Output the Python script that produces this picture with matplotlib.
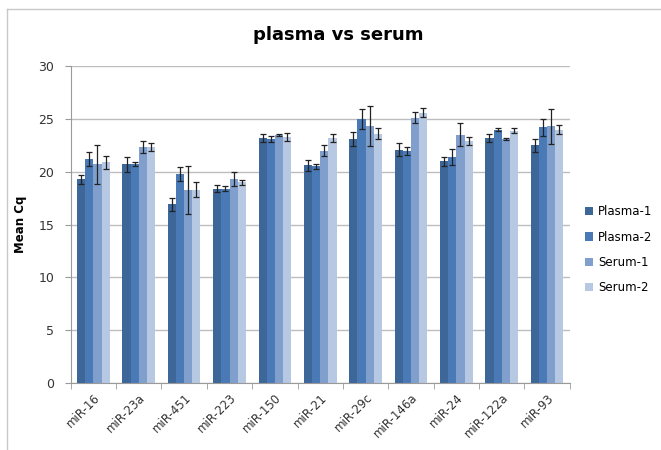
import numpy as np
import matplotlib.pyplot as plt
from matplotlib.lines import Line2D

# Dados
mirnas = ['miR-16', 'miR-23a', 'miR-451', 'miR-223', 'miR-150', 'miR-21',
          'miR-29c', 'miR-146a', 'miR-24', 'miR-122a', 'miR-93']
series = ['Plasma-1', 'Plasma-2', 'Serum-1', 'Serum-2']

plasma1 = [19.3, 20.7, 16.9, 18.4, 23.2, 20.6, 23.1, 22.1, 21.0, 23.2, 22.5]
plasma2 = [21.2, 20.7, 19.8, 18.4, 23.1, 20.5, 25.0, 22.0, 21.4, 24.0, 24.2]
serum1 = [20.7, 22.3, 18.3, 19.3, 23.5, 22.0, 24.3, 25.1, 23.5, 23.1, 24.3]
serum2 = [20.9, 22.3, 18.3, 19.0, 23.3, 23.2, 23.6, 25.6, 22.9, 23.9, 24.0]

err_p1 = [0.43, 0.73, 0.66, 0.32, 0.38, 0.52, 0.69, 0.65, 0.41, 0.35, 0.62]
err_p2 = [0.63, 0.19, 0.68, 0.24, 0.33, 0.28, 0.93, 0.38, 0.76, 0.10, 0.79]
err_s1 = [1.88, 0.57, 2.26, 0.68, 0.11, 0.55, 1.89, 0.52, 1.09, 0.06, 1.66]
err_s2 = [0.60, 0.38, 0.71, 0.24, 0.38, 0.35, 0.52, 0.41, 0.35, 0.25, 0.46]

valores = [plasma1, plasma2, serum1, serum2]
erros = [err_p1, err_p2, err_s1, err_s2]
cores = ['#3D6699', '#4A7AB6', '#809FCD', '#B7C8E3']

fig = plt.figure(figsize=(6.61, 4.5), dpi=100)
ax = fig.add_axes([0.107, 0.149, 0.755, 0.704])

x = np.arange(len(mirnas))
largura = 0.18
for i in range(4):
    pos = x + (i - 1.5) * largura
    ax.bar(pos, valores[i], largura, color=cores[i], label=series[i], zorder=2)
    ax.errorbar(pos, valores[i], yerr=erros[i], fmt='none', ecolor='#222222',
                elinewidth=0.9, capsize=2.5, capthick=0.9, zorder=3)

ax.set_xlim(-0.5, len(mirnas) - 0.5)
ax.set_ylim(0, 30)
ax.set_yticks(range(0, 31, 5))
ax.yaxis.grid(True, color='#BDBDBD', linewidth=1.0, zorder=0)
ax.set_axisbelow(True)

ax.set_xticks(x)
ax.set_xticklabels(mirnas, rotation=45, ha='right', rotation_mode='anchor',
                   fontsize=8.5, color='#333333')
ax.tick_params(axis='x', length=0, pad=6)
ax.set_xticks(np.arange(-0.5, len(mirnas)), minor=True)
ax.tick_params(axis='x', which='minor', length=4, color='#9A9A9A')
ax.tick_params(axis='y', length=4, color='#9A9A9A', labelsize=9,
               labelcolor='#333333', pad=8)

for lado in ['top', 'right']:
    ax.spines[lado].set_visible(False)
for lado in ['left', 'bottom']:
    ax.spines[lado].set_color('#9A9A9A')

ax.set_ylabel('Mean Cq', fontsize=8.5, fontweight='bold', labelpad=8)
fig.text(0.512, 0.922, 'plasma vs serum', ha='center', va='center',
         fontsize=13, fontweight='bold')

fig.legend(loc='center left', bbox_to_anchor=(0.885, 0.445), frameon=False,
           fontsize=8.5, handlelength=0.7, handleheight=0.7, labelspacing=1.05,
           handletextpad=0.4, borderaxespad=0, borderpad=0)

# moldura da área do gráfico
fig.add_artist(Line2D([7 / 661, 7 / 661], [0, 1 - 9 / 450], color='#C8C8C8',
                      linewidth=1, transform=fig.transFigure))
fig.add_artist(Line2D([7 / 661, 1], [1 - 9 / 450, 1 - 9 / 450], color='#C8C8C8',
                      linewidth=1, transform=fig.transFigure))

fig.savefig('out.png', dpi=100)
